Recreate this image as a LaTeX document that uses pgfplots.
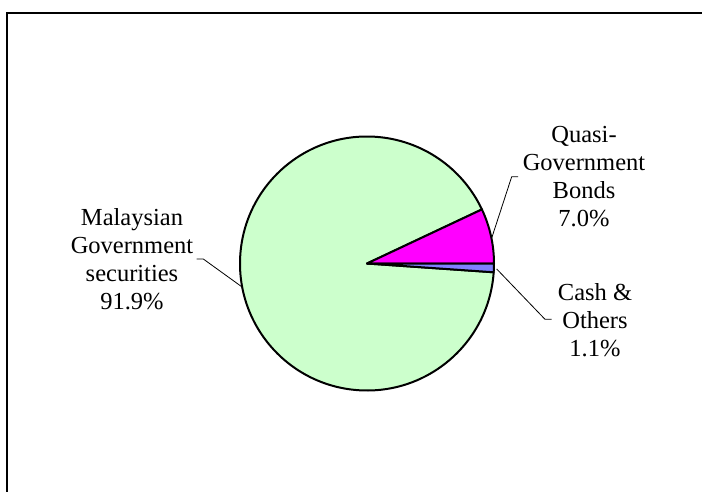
\documentclass[border=0pt]{standalone}
\usepackage{pgfplots}
\pgfplotsset{compat=1.18}
\usepackage{pgfplotstable}
\usepackage{fontspec}
\setmainfont{Liberation Serif}

\definecolor{govgreen}{RGB}{204,255,204}
\definecolor{quasimag}{RGB}{255,0,255}
\definecolor{cashblue}{RGB}{128,128,255}

% shares in percent, in the order the pie is drawn (clockwise)
\pgfplotstableread{
share
91.9
7.0
1.1
}\sharetable

% centre and radius of the pie, in pt
\def\cx{367}
\def\cy{227.5}
\def\rad{127}

\newcommand\slice[3]{%
  \filldraw[fill=#1, draw=black, line width=2pt, line join=round]
    (axis cs:\cx,\cy) -- ++(#2:\rad pt)
    arc[start angle=#2, end angle=#3, radius=\rad pt] -- cycle;}

\begin{document}
\begin{tikzpicture}
\pgfplotstablegetelem{0}{share}\of\sharetable \let\sA\pgfplotsretval
\pgfplotstablegetelem{1}{share}\of\sharetable \let\sB\pgfplotsretval
\pgfplotstablegetelem{2}{share}\of\sharetable \let\sC\pgfplotsretval
\pgfmathsetmacro\aA{-3.6*\sC}
\pgfmathsetmacro\aB{\aA-3.6*\sA}
\pgfmathsetmacro\aC{\aB-3.6*\sB}
\pgfmathsetmacro\aD{\aC-3.6*\sC}

\useasboundingbox (0,0) rectangle (702pt,491pt);
\begin{axis}[
  at={(0,0)}, anchor=origin,
  x=1pt, y=1pt,
  xmin=0, xmax=702, ymin=0, ymax=491,
  hide axis, clip=false,
]
\slice{govgreen}{\aA}{\aB}
\slice{quasimag}{\aB}{\aC}
\slice{cashblue}{\aC}{\aD}

% leader lines
\draw[black, line width=0.8pt] (axis cs:241.7,204.3) -- (axis cs:203.3,232) -- (axis cs:196.7,232);
\draw[black, line width=0.8pt] (axis cs:491.7,253) -- (axis cs:511.7,314.3) -- (axis cs:518,314.3);
\draw[black, line width=0.8pt] (axis cs:496.7,222) -- (axis cs:545,171.7) -- (axis cs:551.7,171.7);

% labels
\tikzset{lab/.style={align=center, inner sep=0pt, font=\fontsize{24.5}{28}\selectfont}}
\node[lab] at (axis cs:132,231.5) {Malaysian\\Government\\securities\\91.9\%};
\node[lab] at (axis cs:584,314) {Quasi-\\Government\\Bonds\\7.0\%};
\node[lab] at (axis cs:595,171) {Cash \&\\Others\\1.1\%};

% chart frame
\draw[black, line width=2pt] (axis cs:6.7,-10) -- (axis cs:6.7,478.3) -- (axis cs:720,478.3);
\end{axis}
\end{tikzpicture}
\end{document}
